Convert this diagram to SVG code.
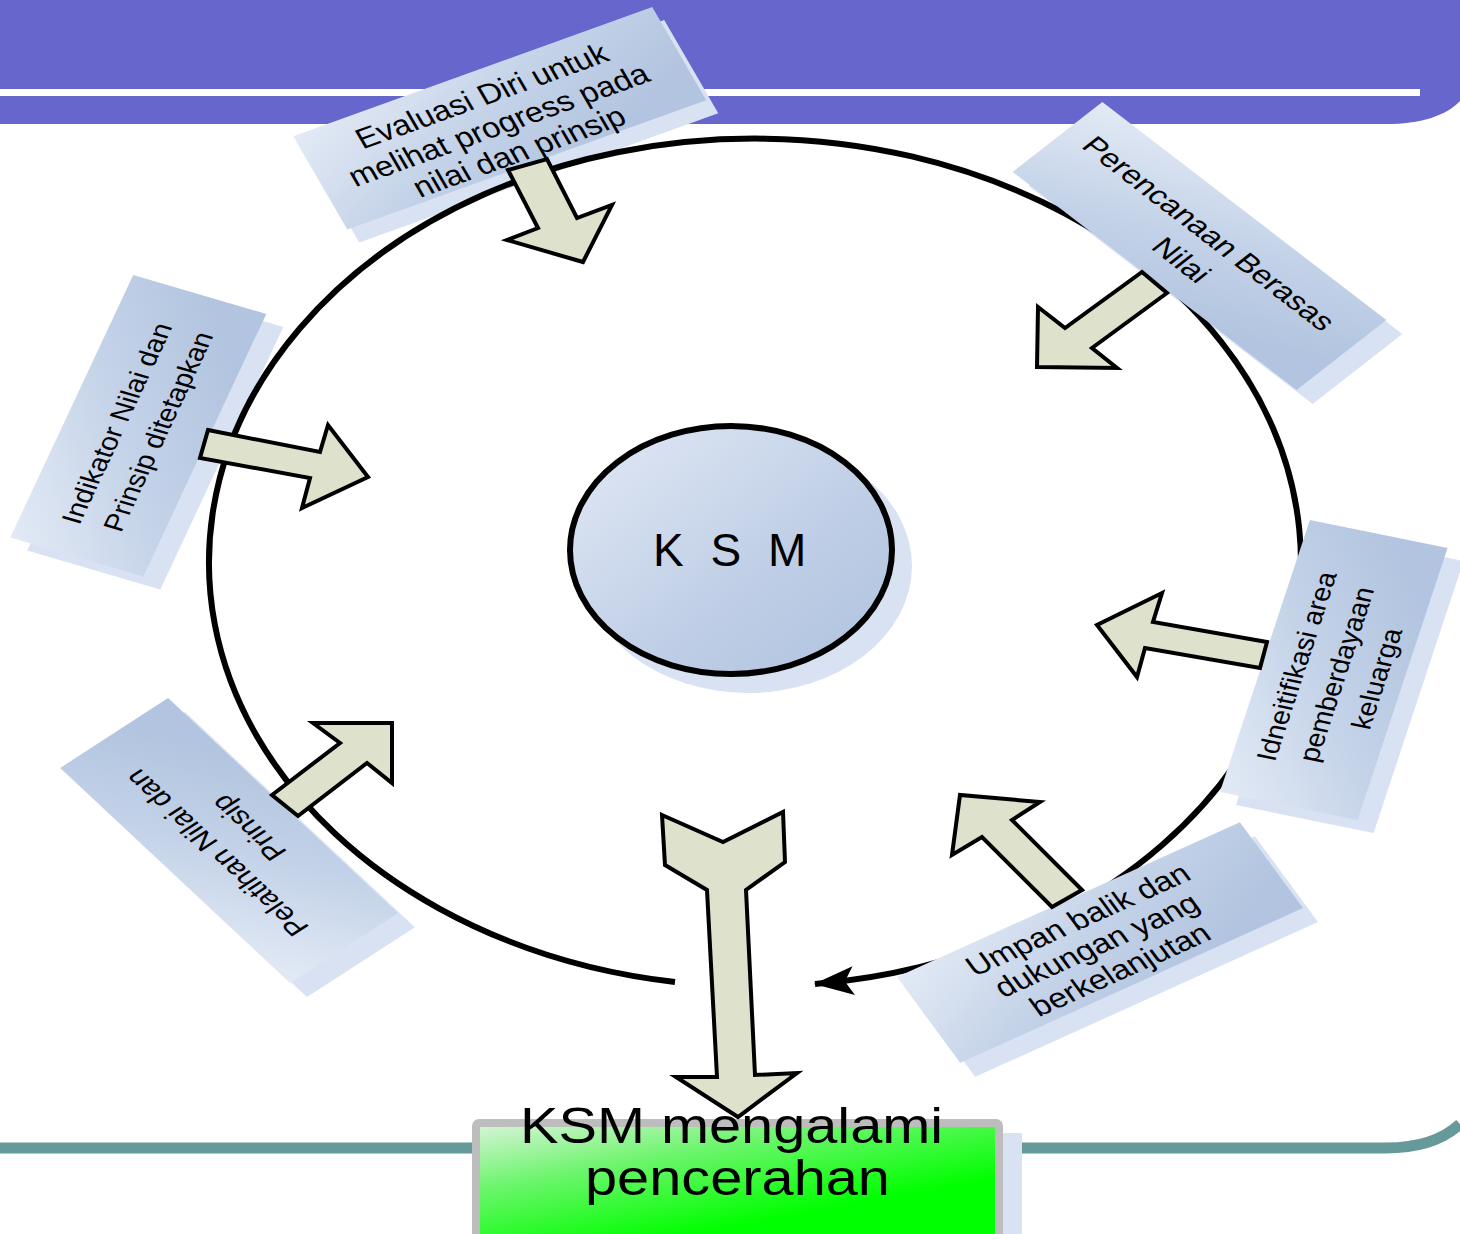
<svg xmlns="http://www.w3.org/2000/svg" width="1460" height="1234" viewBox="0 0 1460 1234">
  <defs>
    <linearGradient id="gLabel" x1="0" y1="0" x2="1" y2="0.6">
      <stop offset="0" stop-color="#e3eaf5"/>
      <stop offset="0.55" stop-color="#c3d2e8"/>
      <stop offset="1" stop-color="#b2c4df"/>
    </linearGradient>
    <linearGradient id="gKsm" x1="0" y1="0" x2="1" y2="1">
      <stop offset="0" stop-color="#e2e9f5"/>
      <stop offset="0.6" stop-color="#bfcee6"/>
      <stop offset="1" stop-color="#afc2de"/>
    </linearGradient>
    <linearGradient id="gGreen" x1="0" y1="0" x2="0.55" y2="0.75">
      <stop offset="0" stop-color="#dcf3dc"/>
      <stop offset="0.45" stop-color="#6cf56c"/>
      <stop offset="1" stop-color="#00ff00"/>
    </linearGradient>
    <marker id="arrowHead" markerUnits="userSpaceOnUse" markerWidth="40" markerHeight="30" viewBox="0 0 36 26" refX="35" refY="13" orient="auto">
      <polygon points="0,0 36,13 0,26 8,13" fill="#000"/>
    </marker>
    <style>
      .shadow { fill: #d9e2f2; }
      .lbl { fill: url(#gLabel); }
      .txt { font-family: "Liberation Sans", Arial, sans-serif; fill: #000; text-anchor: middle; }
      .barrow { fill: #dee1cc; stroke: #000; stroke-width: 4; stroke-linejoin: miter; }
      .ring { fill: none; stroke: #000; stroke-width: 6; }
    </style>
  </defs>

  <!-- background decoration -->
  <g id="background">
    <rect x="0" y="0" width="1460" height="1234" fill="#ffffff"/>
    <path d="M0 0 H1460 V101 C1446 116 1420 124 1386 124 H0 Z" fill="#6666cc"/>
    <rect x="0" y="89" width="1420" height="7" fill="#ffffff"/>
    <path d="M0 1148 H1386 C1420 1148 1444 1139 1460 1124" fill="none" stroke="#669999" stroke-width="11"/>
  </g>

  <!-- label shadows -->
  <g id="label-shadows">
    <g transform="translate(12,13)"><rect class="shadow" transform="translate(499.75,118.25) rotate(-19.8) skewX(10.3)" x="-190.75" y="-53" width="381.5" height="106"/></g>
    <g transform="translate(16,14)"><rect class="shadow" transform="translate(1199.5,246) rotate(37.5) skewX(-14.6)" x="-179" y="-55" width="358" height="110"/></g>
    <g transform="translate(17,13)"><rect class="shadow" transform="translate(138.25,425.75) rotate(-64.9) skewX(8.8)" x="-145" y="-68.5" width="290" height="137"/></g>
    <g transform="translate(16,13)"><rect class="shadow" transform="translate(1333.75,670) rotate(-71.7) skewX(6.8)" x="-143.25" y="-69.75" width="286.5" height="139.5"/></g>
    <g transform="translate(17,14)"><rect class="shadow" transform="translate(229,840.5) rotate(-136.9) skewX(-14)" x="-157.4" y="-62.35" width="314.7" height="124.7"/></g>
    <g transform="translate(15,14)"><rect class="shadow" transform="translate(1100,942.5) rotate(-24.3) skewX(12)" x="-188.1" y="-52.15" width="376.2" height="104.3"/></g>
  </g>

  <!-- ring connector -->
  <g id="connectors-ring">
    <path class="ring" d="M675 982 A546 424 0 1 1 815 984" marker-end="url(#arrowHead)"/>
  </g>

  <!-- nodes -->
  <g id="node-evaluasi" transform="translate(499.75,118.25) rotate(-19.8) skewX(10.3)">
    <rect class="lbl" x="-190.75" y="-53" width="381.5" height="106"/>
    <text class="txt" font-size="29.5" transform="scale(1.08,1)">
      <tspan x="0" y="-17">Evaluasi Diri untuk</tspan>
      <tspan x="0" y="16">melihat progress pada</tspan>
      <tspan x="0" y="48">nilai dan prinsip</tspan>
    </text>
  </g>

  <g id="node-perencanaan" transform="translate(1199.5,246) rotate(37.5) skewX(-14.6)">
    <rect class="lbl" x="-179" y="-55" width="358" height="110"/>
    <text class="txt" font-size="28.5" transform="scale(1.08,1)">
      <tspan x="0" y="-6">Perencanaan Berasas</tspan>
      <tspan x="0" y="32">Nilai</tspan>
    </text>
  </g>

  <g id="node-indikator" transform="translate(138.25,425.75) rotate(-64.9) skewX(8.8)">
    <rect class="lbl" x="-145" y="-68.5" width="290" height="137"/>
    <text class="txt" font-size="27.5">
      <tspan x="0" y="-11">Indikator Nilai dan</tspan>
      <tspan x="0" y="30">Prinsip ditetapkan</tspan>
    </text>
  </g>

  <g id="node-identifikasi" transform="translate(1333.75,670) rotate(-71.7) skewX(6.8)">
    <rect class="lbl" x="-143.25" y="-69.75" width="286.5" height="139.5"/>
    <text class="txt" font-size="27.5">
      <tspan x="0" y="-27">Idneitifikasi area</tspan>
      <tspan x="0" y="13.5">pemberdayaan</tspan>
      <tspan x="0" y="53">keluarga</tspan>
    </text>
  </g>

  <g id="node-pelatihan" transform="translate(229,840.5) rotate(-136.9) skewX(-14)">
    <rect class="lbl" x="-157.4" y="-62.35" width="314.7" height="124.7"/>
    <text class="txt" font-size="28">
      <tspan x="0" y="-8">Pelatihan Nilai dan</tspan>
      <tspan x="0" y="32">Prinsip</tspan>
    </text>
  </g>

  <g id="node-umpan-balik" transform="translate(1100,942.5) rotate(-24.3) skewX(12)">
    <rect class="lbl" x="-188.1" y="-52.15" width="376.2" height="104.3"/>
    <text class="txt" font-size="29" transform="scale(1.1,1)">
      <tspan x="0" y="-20">Umpan balik dan</tspan>
      <tspan x="0" y="11">dukungan yang</tspan>
      <tspan x="0" y="43">berkelanjutan</tspan>
    </text>
  </g>

  <g id="node-ksm">
    <ellipse cx="748" cy="566" rx="164" ry="127" class="shadow"/>
    <ellipse cx="731" cy="550" rx="161" ry="124" fill="url(#gKsm)" stroke="#000" stroke-width="6"/>
    <text x="653" y="566" font-family="'Liberation Sans', Arial, sans-serif" font-size="46" letter-spacing="7" fill="#000">K S M</text>
  </g>

  <g id="node-pencerahan">
    <rect x="498" y="1133" width="524" height="120" class="shadow"/>
    <rect x="476" y="1123" width="523" height="130" rx="3" fill="url(#gGreen)" stroke="#bdbdbd" stroke-width="8"/>
  </g>

  <!-- block arrow connectors -->
  <g id="connectors-arrows">
    <polygon class="barrow" points="508,170 547,159 577,218 612,205 583,262 507,240 538,228"/>
    <polygon class="barrow" points="1142,272 1167,293 1092,348 1117,368 1037,367 1038,307 1065,328"/>
    <polygon class="barrow" points="208,430 320,452 328,425 368,477 302,508 310,478 200,458"/>
    <polygon class="barrow" points="1267,642 1153,622 1162,593 1097,625 1137,677 1145,648 1260,668"/>
    <polygon class="barrow" points="272,795 340,743 313,723 392,723 392,783 367,763 298,816"/>
    <polygon class="barrow" points="1082,890 1012,820 1040,802 960,795 952,855 982,837 1052,907"/>
    <polygon class="barrow" points="662,815 723,842 783,812 785,862 746,890 755,1075 797,1073 738,1117 676,1077 717,1077 707,890 665,865"/>
  </g>

  <g id="node-pencerahan-text">
    <text class="txt" font-size="50">
      <tspan x="738.5" y="1143" textLength="423" lengthAdjust="spacingAndGlyphs">KSM mengalami</tspan>
      <tspan x="737.5" y="1195" textLength="305" lengthAdjust="spacingAndGlyphs">pencerahan</tspan>
    </text>
  </g>
</svg>
